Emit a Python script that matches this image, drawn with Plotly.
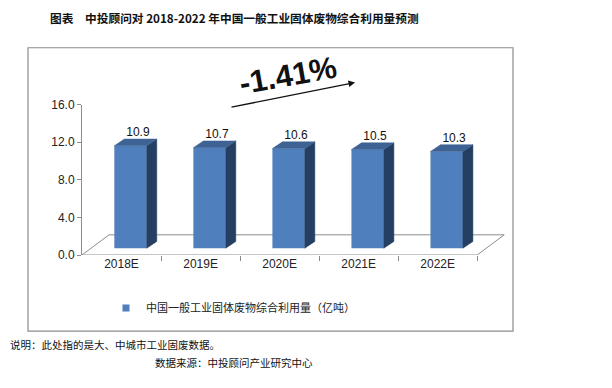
import plotly.graph_objects as go

# ---- data ----
categories = ["2018E", "2019E", "2020E", "2021E", "2022E"]
values = [10.9, 10.7, 10.6, 10.5, 10.3]
value_labels = ["10.9", "10.7", "10.6", "10.5", "10.3"]
y_ticks = [0, 4, 8, 12, 16]
y_tick_labels = ["0.0", "4.0", "8.0", "12.0", "16.0"]
series_name = "中国一般工业固体废物综合利用量（亿吨）"
growth_label = "-1.41%"
title_text = "图表　中投顾问对 2018-2022 年中国一般工业固体废物综合利用量预测"
note_text = "说明：此处指的是大、中城市工业固废数据。"
source_text = "数据来源：中投顾问产业研究中心"

W, H = 612, 388
OFF = 8  # page body margin offset


def px(x):
    return (x - OFF) / W


def py(y):
    return 1 - (y - OFF) / H


FRONT = "#4f7fbd"
SIDE = "#243f61"
TOP = "#3d6293"
GRAY = "#8c8c8c"

# pseudo-3D geometry (data units)
shift = 0.114
base = 0.72
half_w = 0.205
dx, dy = 0.127, 0.72
floor_dx, floor_dy = 0.342, 2.15
x_lo, x_hi = -0.5, len(categories) - 0.5

fig = go.Figure()

xs = [i + shift for i in range(len(categories))]

# front faces
fig.add_trace(go.Bar(
    x=xs, y=values, base=[base] * len(values), width=2 * half_w,
    marker=dict(color=FRONT, line=dict(width=0)),
    name=series_name, showlegend=False, hoverinfo="skip"))

# side and top faces
for xc, v in zip(xs, values):
    xr = xc + half_w
    xl = xc - half_w
    top = base + v
    fig.add_trace(go.Scatter(
        x=[xr, xr, xr + dx, xr + dx, xr],
        y=[base, top, top + dy, base + dy, base],
        mode="lines", fill="toself", fillcolor=SIDE,
        line=dict(color=SIDE, width=0.5),
        hoverinfo="skip", showlegend=False))
    fig.add_trace(go.Scatter(
        x=[xl, xr, xr + dx, xl + dx, xl],
        y=[top, top, top + dy, top + dy, top],
        mode="lines", fill="toself", fillcolor=TOP,
        line=dict(color=TOP, width=0.5),
        hoverinfo="skip", showlegend=False))

# value labels
fig.add_trace(go.Scatter(
    x=[x + dx / 2 + 0.03 for x in xs],
    y=[base + v + dy for v in values],
    mode="text", text=value_labels, textposition="top center",
    textfont=dict(family="Liberation Sans, Arial", size=12, color="#111"),
    hoverinfo="skip", showlegend=False, cliponaxis=False))

# legend entry
fig.add_trace(go.Scatter(
    x=[None], y=[None], mode="markers", name=series_name,
    marker=dict(symbol="square", size=7, color=FRONT)))

floor_path = (f"M {x_lo},0 L {x_hi},0 L {x_hi + floor_dx},{floor_dy} "
              f"L {x_lo + floor_dx},{floor_dy} Z")

fig.update_layout(
    width=W, height=H,
    margin=dict(l=0, r=0, t=0, b=0),
    paper_bgcolor="white", plot_bgcolor="rgba(0,0,0,0)",
    showlegend=True,
    legend=dict(orientation="h", x=px(106), y=py(312),
                xanchor="left", yanchor="middle",
                font=dict(family="Noto Sans CJK SC", size=11, color="#222"),
                bgcolor="rgba(0,0,0,0)", itemwidth=30),
    xaxis=dict(domain=[px(82), px(505)], range=[x_lo, x_hi + floor_dx + 0.01],
               tickvals=list(range(len(categories))), ticktext=categories,
               ticks="", showgrid=False, zeroline=False, showline=False,
               tickfont=dict(family="Liberation Sans, Arial", size=12, color="#222"),
               minor=dict(tickvals=[i + 0.5 for i in range(len(categories))],
                          ticks="outside", ticklen=5, tickcolor=GRAY, showgrid=False),
               fixedrange=True),
    yaxis=dict(domain=[py(257), py(101)], range=[0, 16],
               tickvals=y_ticks, ticktext=y_tick_labels,
               ticks="outside", ticklen=4, tickcolor=GRAY,
               showline=True, linecolor=GRAY, linewidth=1,
               showgrid=False, zeroline=False,
               tickfont=dict(family="Liberation Sans, Arial", size=12, color="#222"),
               fixedrange=True),
    shapes=[
        dict(type="rect", xref="paper", yref="paper",
             x0=px(28), x1=px(513), y0=py(336), y1=py(42),
             line=dict(color=GRAY, width=1.2), fillcolor="rgba(0,0,0,0)",
             layer="below"),
        dict(type="path", xref="x", yref="y", path=floor_path,
             line=dict(color=GRAY, width=1), fillcolor="rgba(0,0,0,0)",
             layer="below"),
    ],
    annotations=[
        dict(text="<b>" + title_text + "</b>", xref="paper", yref="paper",
             x=px(234), y=py(11), xanchor="center", yanchor="middle",
             showarrow=False,
             font=dict(family="Noto Sans CJK SC", size=11.7, color="#111")),
        dict(text="<b>" + growth_label + "</b>", xref="paper", yref="paper",
             x=px(288), y=py(71), xanchor="center", yanchor="middle",
             textangle=-10, showarrow=False,
             font=dict(family="Liberation Sans, Arial", size=31, color="#111")),
        dict(text="", xref="paper", yref="paper",
             x=px(355), y=py(78), ax=-125, ay=25,
             showarrow=True, arrowhead=2, arrowsize=1, arrowwidth=1.3,
             arrowcolor="#111"),
        dict(text=note_text, xref="paper", yref="paper",
             x=px(8), y=py(350), xanchor="left", yanchor="middle",
             showarrow=False,
             font=dict(family="Noto Sans CJK SC", size=10.5, color="#111")),
        dict(text=source_text, xref="paper", yref="paper",
             x=px(234), y=py(368), xanchor="center", yanchor="middle",
             showarrow=False,
             font=dict(family="Noto Sans CJK SC", size=10.5, color="#111")),
    ],
)

fig.write_html("out.html")
